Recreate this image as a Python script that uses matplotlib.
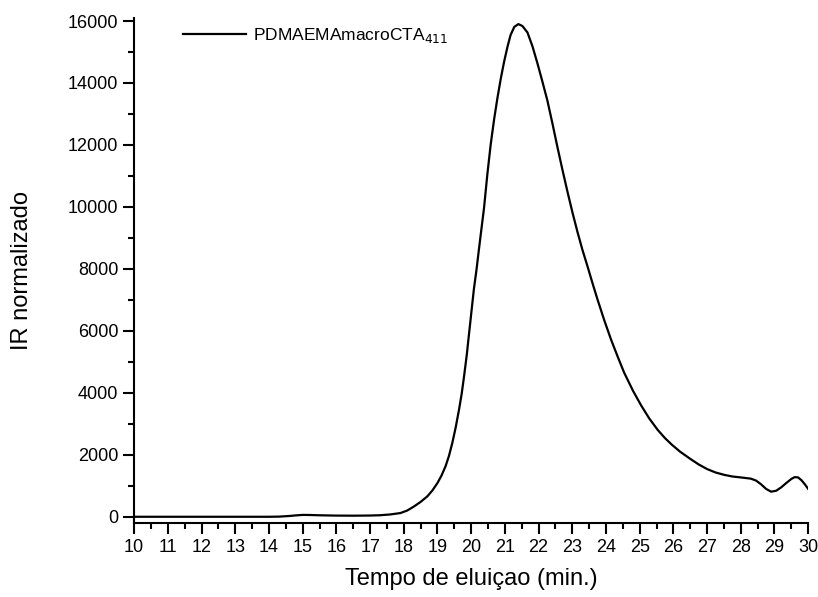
import matplotlib
matplotlib.use("Agg")
import matplotlib.pyplot as plt
from matplotlib.ticker import MultipleLocator

plt.rcParams['font.family'] = ['Liberation Sans', 'DejaVu Sans']

# tempo de eluicao (min) e sinal IR
tempo = [10, 11, 12, 13, 14, 14.3, 14.6, 14.8, 15.0, 15.2, 15.5, 16.0, 16.5, 17.0,
         17.3, 17.6, 17.9, 18.1, 18.3, 18.5, 18.7, 18.85, 19.0, 19.12, 19.24,
         19.34, 19.44, 19.54, 19.64, 19.72, 19.79, 19.87, 19.94, 20.01, 20.08,
         20.16, 20.23, 20.3, 20.38, 20.48, 20.58, 20.68, 20.78, 20.88, 20.98,
         21.08, 21.17, 21.28, 21.40, 21.52, 21.67, 21.82, 21.97, 22.11, 22.26,
         22.41, 22.56, 22.71, 22.86, 23.01, 23.16, 23.3, 23.45, 23.6, 23.75,
         23.95, 24.15, 24.35, 24.54, 24.8, 25.04, 25.28, 25.53, 25.75, 25.95,
         26.2, 26.5, 26.75, 27.0, 27.25, 27.5, 27.75, 28.0, 28.15, 28.3, 28.45,
         28.6, 28.75, 28.9, 29.05, 29.2, 29.35, 29.5, 29.6, 29.7, 29.8, 29.9, 30.0]
ir = [0, 0, 0, 0, 0, 5, 25, 45, 60, 58, 48, 38, 35, 40,
      50, 75, 120, 200, 330, 480, 660, 850, 1090, 1330, 1630,
      1960, 2380, 2880, 3460, 3980, 4540, 5230, 5940, 6640, 7340,
      7990, 8630, 9250, 9950, 11050, 12020, 12820, 13520, 14150, 14700,
      15180, 15550, 15810, 15900, 15840, 15630, 15180, 14620, 14060, 13440,
      12700, 11930, 11190, 10480, 9800, 9170, 8620, 8090, 7540, 7010,
      6340, 5720, 5160, 4650, 4070, 3600, 3180, 2810, 2540, 2330,
      2100, 1870, 1690, 1540, 1430, 1355, 1300, 1270, 1250, 1230, 1170,
      1050, 900, 810, 840, 950, 1090, 1220, 1280, 1270, 1180, 1050, 900]

fig = plt.figure(figsize=(8.18, 5.97), dpi=100)
ax = fig.add_axes([0.164, 0.124, 0.824, 0.846])
ax.plot(tempo, ir, color='black', lw=1.6, label='PDMAEMAmacroCTA$_{411}$')

ax.set_xlim(10, 30)
ax.set_ylim(-200, 16100)
ax.xaxis.set_major_locator(MultipleLocator(1))
ax.xaxis.set_minor_locator(MultipleLocator(0.5))
ax.yaxis.set_major_locator(MultipleLocator(2000))
ax.yaxis.set_minor_locator(MultipleLocator(1000))

for s in ['top', 'right']:
    ax.spines[s].set_visible(False)
for s in ['left', 'bottom']:
    ax.spines[s].set_linewidth(1.5)

ax.tick_params(which='major', direction='out', length=8, width=1.5, labelsize=13)
ax.tick_params(which='minor', direction='out', length=4, width=1.5)

ax.set_xlabel('Tempo de eluiçao (min.)', fontsize=17, labelpad=9)
ax.set_ylabel('IR normalizado', fontsize=17, labelpad=25)

ax.legend(loc='upper left', bbox_to_anchor=(0.05, 1.015), frameon=False,
          fontsize=12.5, handlelength=3.6, handletextpad=0.4)

fig.savefig('out.png', dpi=100)
